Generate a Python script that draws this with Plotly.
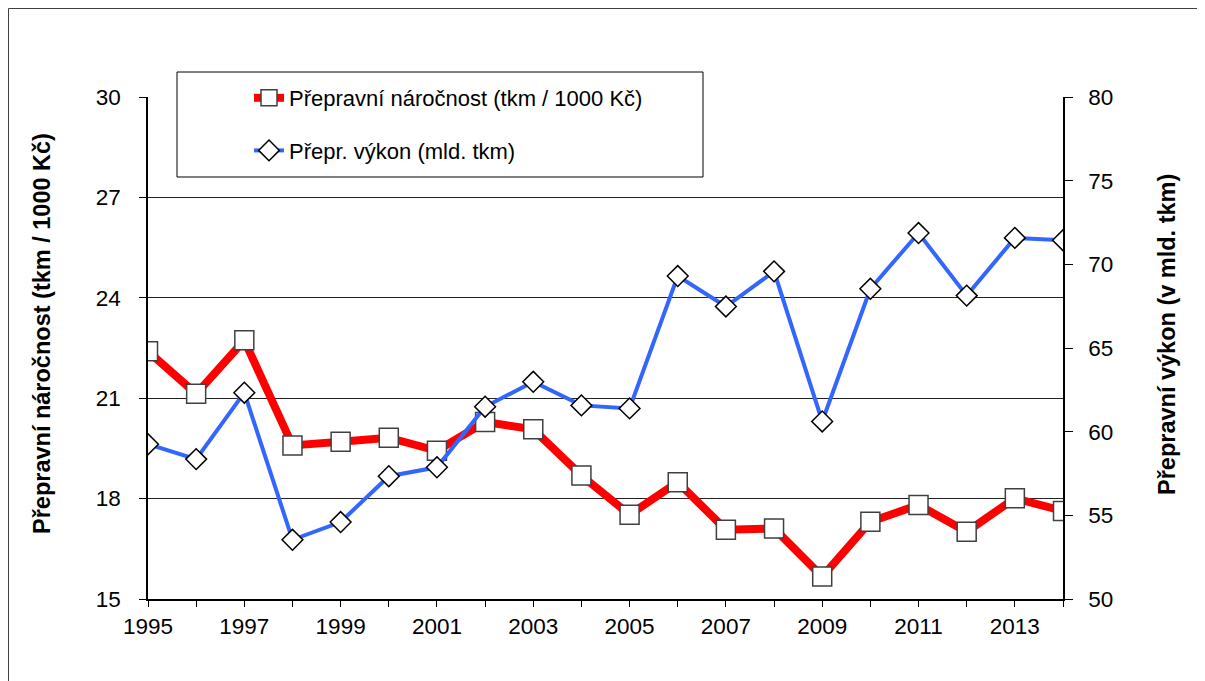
import plotly.graph_objects as go

# Values
YEARS = list(range(1995, 2015))
NAROCNOST = [22.40, 21.13, 22.73, 19.59, 19.70, 19.82, 19.43, 20.29, 20.07, 18.69,
             17.52, 18.49, 17.07, 17.11, 15.67, 17.31, 17.81, 17.01, 18.01, 17.63]
VYKON = [59.25, 58.36, 62.33, 53.54, 54.60, 57.34, 57.87, 61.49, 62.98, 61.57,
         61.39, 69.30, 67.48, 69.58, 60.61, 68.54, 71.87, 68.13, 71.58, 71.44]

NAME_RED = "Přepravní náročnost (tkm / 1000 Kč)"
NAME_BLUE = "Přepr. výkon (mld. tkm)"
TITLE_LEFT = "Přepravní náročnost (tkm / 1000 Kč)"
TITLE_RIGHT = "Přepravní výkon (v mld. tkm)"

FONT = "Liberation Sans, Arial, sans-serif"

# page is 1205x681, the figure div sits at the 8px body margin
OFF = 8
W, H = 1205 - OFF, 681 - OFF
# plot area in page pixels: x 148..1063, y 97..599
L, R, T, B = 148, 1063, 97, 599


def px_x(px):
    return (px - L) / (R - L)


def px_y(py):
    return (B - py) / (B - T)


fig = go.Figure()
fig.add_trace(go.Scatter(
    x=YEARS, y=NAROCNOST, mode="lines+markers", name=NAME_RED,
    legendgroup="a",
    line=dict(color="#ff0000", width=8),
    marker=dict(symbol="square", size=19, color="white",
                line=dict(color="#404040", width=1.5)),
))
fig.add_trace(go.Scatter(
    x=YEARS, y=VYKON, mode="lines+markers", name=NAME_BLUE, yaxis="y2",
    legendgroup="b",
    line=dict(color="#3366ff", width=4),
    marker=dict(symbol="diamond", size=16, color="white",
                line=dict(color="black", width=1.5)),
))

# outer frame (runs off the right and bottom edges as in the reference)
fig.add_shape(type="rect", xref="paper", yref="paper",
              x0=px_x(OFF + 0.5), x1=px_x(1230), y0=px_y(700), y1=px_y(OFF + 0.5),
              line=dict(color="#404040", width=1), layer="below")
# legend box
fig.add_shape(type="rect", xref="paper", yref="paper",
              x0=px_x(177), x1=px_x(703), y0=px_y(177), y1=px_y(72),
              line=dict(color="black", width=1), fillcolor="white", layer="above")

title_font = dict(family=FONT, size=23.5, color="black", weight="bold")
fig.add_annotation(text=TITLE_LEFT, xref="paper", yref="paper",
                   x=px_x(42), y=px_y(334), textangle=-90, showarrow=False,
                   font=title_font, xanchor="center", yanchor="middle")
fig.add_annotation(text=TITLE_RIGHT, xref="paper", yref="paper",
                   x=px_x(1167), y=px_y(335), textangle=-90, showarrow=False,
                   font=title_font, xanchor="center", yanchor="middle")

fig.update_layout(
    width=W, height=H,
    margin=dict(l=L - OFF, r=W - (R - OFF), t=T - OFF, b=H - (B - OFF), pad=0),
    paper_bgcolor="white", plot_bgcolor="white",
    font=dict(family=FONT, size=22.5, color="black"),
    showlegend=True,
    legend=dict(x=px_x(249), y=px_y(77), xanchor="left", yanchor="top",
                bgcolor="rgba(0,0,0,0)", borderwidth=0,
                tracegroupgap=21, font=dict(size=22)),
    xaxis=dict(range=[1995, 2014], tick0=1995, dtick=2, showgrid=False,
               showline=True, linecolor="black", linewidth=1.5,
               ticks="outside", ticklen=6, tickcolor="black",
               ticklabelstandoff=0, zeroline=False,
               minor=dict(dtick=1, ticks="outside", ticklen=6,
                          tickcolor="black", showgrid=False)),
    yaxis=dict(range=[15, 30], dtick=3, showgrid=True, gridcolor="#222222",
               gridwidth=1, showline=True, linecolor="black", linewidth=1.5,
               ticks="outside", ticklen=7, tickcolor="black",
               ticklabelstandoff=14, zeroline=False),
    yaxis2=dict(range=[50, 80], dtick=5, overlaying="y", side="right",
                showgrid=False, showline=True, linecolor="black",
                linewidth=1.5, ticks="outside", ticklen=8,
                tickcolor="black", ticklabelstandoff=11, zeroline=False),
)

fig.write_html("out.html")
